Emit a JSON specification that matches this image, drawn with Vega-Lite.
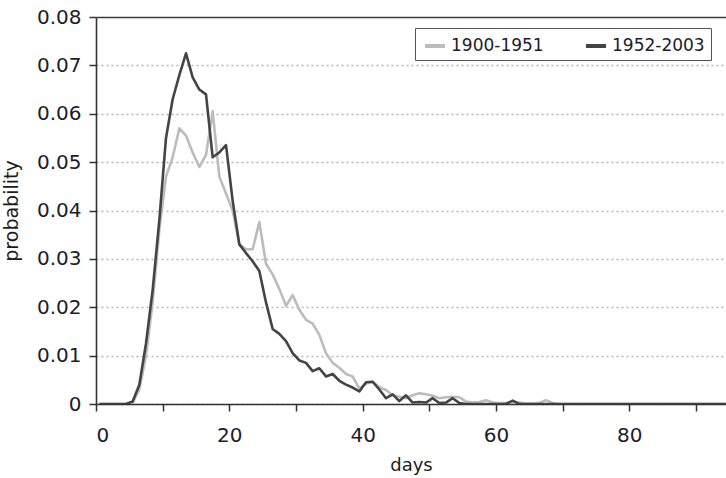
{
  "$schema": "https://vega.github.io/schema/vega-lite/v6.json",
  "width": 630,
  "height": 387,
  "autosize": {"type": "none"},
  "padding": {"left": 96, "top": 17, "right": 0, "bottom": 74},
  "background": "white",
  "config": {
    "view": {"stroke": null},
    "font": "DejaVu Sans",
    "axis": {
      "domainColor": "#333333",
      "domainWidth": 1.6,
      "tickColor": "#333333",
      "tickWidth": 1.5,
      "tickSize": 7,
      "labelFont": "DejaVu Sans",
      "labelFontSize": 20,
      "labelColor": "#1c1c2c",
      "titleFont": "DejaVu Sans",
      "titleFontWeight": "normal",
      "titleColor": "#1c1c1c"
    }
  },
  "data": {
    "values": [
      {"d": 0.5, "s": "1900-1951", "p": 0},
      {"d": 1.5, "s": "1900-1951", "p": 0},
      {"d": 2.5, "s": "1900-1951", "p": 0},
      {"d": 3.5, "s": "1900-1951", "p": 0},
      {"d": 4.5, "s": "1900-1951", "p": 0},
      {"d": 5.5, "s": "1900-1951", "p": 0.0003},
      {"d": 6.5, "s": "1900-1951", "p": 0.003},
      {"d": 7.5, "s": "1900-1951", "p": 0.01},
      {"d": 8.5, "s": "1900-1951", "p": 0.021},
      {"d": 9.5, "s": "1900-1951", "p": 0.036},
      {"d": 10.5, "s": "1900-1951", "p": 0.047},
      {"d": 11.5, "s": "1900-1951", "p": 0.051},
      {"d": 12.5, "s": "1900-1951", "p": 0.057},
      {"d": 13.5, "s": "1900-1951", "p": 0.0555},
      {"d": 14.5, "s": "1900-1951", "p": 0.052},
      {"d": 15.5, "s": "1900-1951", "p": 0.049},
      {"d": 16.5, "s": "1900-1951", "p": 0.0515},
      {"d": 17.5, "s": "1900-1951", "p": 0.0605},
      {"d": 18.5, "s": "1900-1951", "p": 0.047},
      {"d": 19.5, "s": "1900-1951", "p": 0.0435},
      {"d": 20.5, "s": "1900-1951", "p": 0.04},
      {"d": 21.5, "s": "1900-1951", "p": 0.033},
      {"d": 22.5, "s": "1900-1951", "p": 0.032},
      {"d": 23.5, "s": "1900-1951", "p": 0.032},
      {"d": 24.5, "s": "1900-1951", "p": 0.0376},
      {"d": 25.5, "s": "1900-1951", "p": 0.029},
      {"d": 26.5, "s": "1900-1951", "p": 0.0268},
      {"d": 27.5, "s": "1900-1951", "p": 0.0238},
      {"d": 28.5, "s": "1900-1951", "p": 0.0203},
      {"d": 29.5, "s": "1900-1951", "p": 0.0225},
      {"d": 30.5, "s": "1900-1951", "p": 0.0195},
      {"d": 31.5, "s": "1900-1951", "p": 0.0174},
      {"d": 32.5, "s": "1900-1951", "p": 0.0166},
      {"d": 33.5, "s": "1900-1951", "p": 0.0143},
      {"d": 34.5, "s": "1900-1951", "p": 0.0105},
      {"d": 35.5, "s": "1900-1951", "p": 0.0085},
      {"d": 36.5, "s": "1900-1951", "p": 0.0075},
      {"d": 37.5, "s": "1900-1951", "p": 0.0062},
      {"d": 38.5, "s": "1900-1951", "p": 0.0057},
      {"d": 39.5, "s": "1900-1951", "p": 0.0032},
      {"d": 40.5, "s": "1900-1951", "p": 0.0042},
      {"d": 41.5, "s": "1900-1951", "p": 0.0046},
      {"d": 42.5, "s": "1900-1951", "p": 0.0035},
      {"d": 43.5, "s": "1900-1951", "p": 0.0029},
      {"d": 44.5, "s": "1900-1951", "p": 0.0018},
      {"d": 45.5, "s": "1900-1951", "p": 0.0015},
      {"d": 46.5, "s": "1900-1951", "p": 0.0012},
      {"d": 47.5, "s": "1900-1951", "p": 0.0018},
      {"d": 48.5, "s": "1900-1951", "p": 0.0022},
      {"d": 49.5, "s": "1900-1951", "p": 0.002},
      {"d": 50.5, "s": "1900-1951", "p": 0.0017},
      {"d": 51.5, "s": "1900-1951", "p": 0.0012},
      {"d": 52.5, "s": "1900-1951", "p": 0.0014},
      {"d": 53.5, "s": "1900-1951", "p": 0.0015},
      {"d": 54.5, "s": "1900-1951", "p": 0.0014},
      {"d": 55.5, "s": "1900-1951", "p": 0.0005},
      {"d": 56.5, "s": "1900-1951", "p": 0.0003},
      {"d": 57.5, "s": "1900-1951", "p": 0.0004},
      {"d": 58.5, "s": "1900-1951", "p": 0.0008},
      {"d": 59.5, "s": "1900-1951", "p": 0.0003},
      {"d": 60.5, "s": "1900-1951", "p": 0.0002},
      {"d": 61.5, "s": "1900-1951", "p": 0.0002},
      {"d": 62.5, "s": "1900-1951", "p": 0.0002},
      {"d": 63.5, "s": "1900-1951", "p": 0.0003},
      {"d": 64.5, "s": "1900-1951", "p": 0.0001},
      {"d": 65.5, "s": "1900-1951", "p": 0.0001},
      {"d": 66.5, "s": "1900-1951", "p": 0.0002},
      {"d": 67.5, "s": "1900-1951", "p": 0.0008},
      {"d": 68.5, "s": "1900-1951", "p": 0.0002},
      {"d": 69.5, "s": "1900-1951", "p": 0},
      {"d": 70.5, "s": "1900-1951", "p": 0},
      {"d": 75.5, "s": "1900-1951", "p": 0},
      {"d": 80.5, "s": "1900-1951", "p": 0},
      {"d": 85.5, "s": "1900-1951", "p": 0},
      {"d": 90.5, "s": "1900-1951", "p": 0},
      {"d": 94.5, "s": "1900-1951", "p": 0},
      {"d": 0.5, "s": "1952-2003", "p": 0},
      {"d": 1.5, "s": "1952-2003", "p": 0},
      {"d": 2.5, "s": "1952-2003", "p": 0},
      {"d": 3.5, "s": "1952-2003", "p": 0},
      {"d": 4.5, "s": "1952-2003", "p": 0},
      {"d": 5.5, "s": "1952-2003", "p": 0.0005},
      {"d": 6.5, "s": "1952-2003", "p": 0.004},
      {"d": 7.5, "s": "1952-2003", "p": 0.0125},
      {"d": 8.5, "s": "1952-2003", "p": 0.0236},
      {"d": 9.5, "s": "1952-2003", "p": 0.038},
      {"d": 10.5, "s": "1952-2003", "p": 0.055},
      {"d": 11.5, "s": "1952-2003", "p": 0.063},
      {"d": 12.5, "s": "1952-2003", "p": 0.068},
      {"d": 13.5, "s": "1952-2003", "p": 0.0725},
      {"d": 14.5, "s": "1952-2003", "p": 0.0675},
      {"d": 15.5, "s": "1952-2003", "p": 0.065},
      {"d": 16.5, "s": "1952-2003", "p": 0.064},
      {"d": 17.5, "s": "1952-2003", "p": 0.051},
      {"d": 18.5, "s": "1952-2003", "p": 0.052},
      {"d": 19.5, "s": "1952-2003", "p": 0.0535},
      {"d": 20.5, "s": "1952-2003", "p": 0.042},
      {"d": 21.5, "s": "1952-2003", "p": 0.033},
      {"d": 22.5, "s": "1952-2003", "p": 0.0312},
      {"d": 23.5, "s": "1952-2003", "p": 0.0295},
      {"d": 24.5, "s": "1952-2003", "p": 0.0275},
      {"d": 25.5, "s": "1952-2003", "p": 0.021},
      {"d": 26.5, "s": "1952-2003", "p": 0.0155},
      {"d": 27.5, "s": "1952-2003", "p": 0.0145},
      {"d": 28.5, "s": "1952-2003", "p": 0.013},
      {"d": 29.5, "s": "1952-2003", "p": 0.0105},
      {"d": 30.5, "s": "1952-2003", "p": 0.009},
      {"d": 31.5, "s": "1952-2003", "p": 0.0085},
      {"d": 32.5, "s": "1952-2003", "p": 0.0068},
      {"d": 33.5, "s": "1952-2003", "p": 0.0074},
      {"d": 34.5, "s": "1952-2003", "p": 0.0057},
      {"d": 35.5, "s": "1952-2003", "p": 0.0062},
      {"d": 36.5, "s": "1952-2003", "p": 0.0048},
      {"d": 37.5, "s": "1952-2003", "p": 0.004},
      {"d": 38.5, "s": "1952-2003", "p": 0.0034},
      {"d": 39.5, "s": "1952-2003", "p": 0.0026},
      {"d": 40.5, "s": "1952-2003", "p": 0.0045},
      {"d": 41.5, "s": "1952-2003", "p": 0.0046},
      {"d": 42.5, "s": "1952-2003", "p": 0.003},
      {"d": 43.5, "s": "1952-2003", "p": 0.0012},
      {"d": 44.5, "s": "1952-2003", "p": 0.002},
      {"d": 45.5, "s": "1952-2003", "p": 0.0006},
      {"d": 46.5, "s": "1952-2003", "p": 0.0018},
      {"d": 47.5, "s": "1952-2003", "p": 0.0003},
      {"d": 48.5, "s": "1952-2003", "p": 0.0004},
      {"d": 49.5, "s": "1952-2003", "p": 0.0003},
      {"d": 50.5, "s": "1952-2003", "p": 0.0012},
      {"d": 51.5, "s": "1952-2003", "p": 0.0002},
      {"d": 52.5, "s": "1952-2003", "p": 0.0003},
      {"d": 53.5, "s": "1952-2003", "p": 0.0012},
      {"d": 54.5, "s": "1952-2003", "p": 0.0002},
      {"d": 55.5, "s": "1952-2003", "p": 0},
      {"d": 56.5, "s": "1952-2003", "p": 0},
      {"d": 57.5, "s": "1952-2003", "p": 0},
      {"d": 58.5, "s": "1952-2003", "p": 0},
      {"d": 59.5, "s": "1952-2003", "p": 0},
      {"d": 60.5, "s": "1952-2003", "p": 0},
      {"d": 61.5, "s": "1952-2003", "p": 0},
      {"d": 62.5, "s": "1952-2003", "p": 0.0007},
      {"d": 63.5, "s": "1952-2003", "p": 0},
      {"d": 64.5, "s": "1952-2003", "p": 0},
      {"d": 70.5, "s": "1952-2003", "p": 0},
      {"d": 75.5, "s": "1952-2003", "p": 0},
      {"d": 80.5, "s": "1952-2003", "p": 0},
      {"d": 85.5, "s": "1952-2003", "p": 0},
      {"d": 90.5, "s": "1952-2003", "p": 0},
      {"d": 94.5, "s": "1952-2003", "p": 0}
    ]
  },
  "mark": {"type": "line", "strokeWidth": 2.6, "strokeJoin": "round", "clip": true},
  "encoding": {
    "x": {
      "field": "d",
      "type": "quantitative",
      "scale": {"domain": [0, 94.5], "nice": false, "zero": true},
      "axis": {
        "title": "days",
        "titleFontSize": 18,
        "titlePadding": 11,
        "values": [0, 10, 20, 30, 40, 50, 60, 70, 80, 90],
        "labelExpr": "datum.value % 20 == 0 ? format(datum.value, 'd') : ''",
        "labelPadding": 14,
        "grid": false
      }
    },
    "y": {
      "field": "p",
      "type": "quantitative",
      "scale": {"domain": [0, 0.08], "nice": false},
      "axis": {
        "title": "probability",
        "titleFontSize": 19,
        "titlePadding": 15,
        "values": [0, 0.01, 0.02, 0.03, 0.04, 0.05, 0.06, 0.07, 0.08],
        "labelExpr": "datum.value == 0 ? '0' : format(datum.value, '.2f')",
        "labelPadding": 8,
        "grid": true,
        "gridColor": {"condition": {"test": "datum.value > 0.079", "value": "#3a3a3a"}, "value": "#b5b5b5"},
        "gridDash": {"condition": {"test": "datum.value > 0.079", "value": []}, "value": [2, 3]},
        "gridWidth": {"condition": {"test": "datum.value > 0.079", "value": 1.6}, "value": 1.5}
      }
    },
    "color": {
      "field": "s",
      "type": "nominal",
      "scale": {"domain": ["1900-1951", "1952-2003"], "range": ["#bcbcbc", "#444444"]},
      "legend": {
        "title": "\u00a0\u00a0",
        "titleOrient": "left",
        "titlePadding": 2,
        "titleFontSize": 17,
        "orient": "none",
        "legendX": 319,
        "legendY": 11,
        "direction": "horizontal",
        "symbolType": "stroke",
        "symbolSize": 400,
        "symbolStrokeWidth": 4,
        "labelFont": "DejaVu Sans",
        "labelFontSize": 17,
        "labelColor": "#1c1c2c",
        "labelOffset": 4,
        "labelExpr": "datum.label == '1952-2003' ? datum.label + '\u00a0\u00a0' : datum.label",
        "columnPadding": 34,
        "padding": 6,
        "strokeColor": "#555555",
        "fillColor": "white",
        "labelLimit": 300
      }
    }
  }
}
